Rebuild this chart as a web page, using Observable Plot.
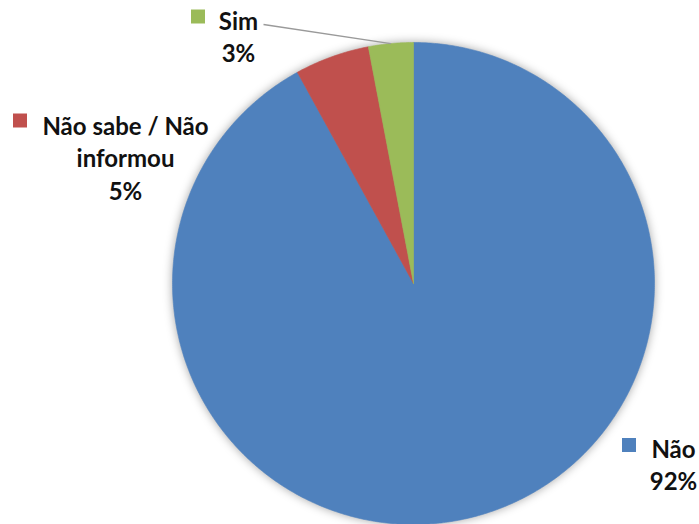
<!DOCTYPE html>
<html>
<head>
<meta charset="utf-8">
<script src="https://cdn.jsdelivr.net/npm/d3@7"></script>
<script src="https://cdn.jsdelivr.net/npm/@observablehq/plot@0.6"></script>
<style>
  html, body { margin: 0; padding: 0; background: #fff; }
  #chart svg { display: block; }
</style>
</head>
<body>
<div id="chart"></div>
<script>
// ---- Data ----
const categories = ["Não", "Não sabe / Não informou", "Sim"];
const values = [92, 5, 3];
const valueLabels = ["92%", "5%", "3%"];
const labelTexts = ["Não\n92%", "Não sabe / Não\ninformou\n5%", "Sim\n3%"];
const colors = ["#4F81BD", "#C0504D", "#9BBB59"];

// ---- Layout (pixels) ----
const W = 699, H = 524;
const cx = 413, cy = 283, R = 241;
const fx = px => (px - cx) / R;
const fy = py => (cy - py) / R;
// label text center x, top of first line y, square center
const labelLayout = [
  {tx: 673, ty: 435, sx: 628.5, sy: 444.5},
  {tx: 125, ty: 112, sx: 19.5, sy: 120},
  {tx: 238, ty: 7, sx: 197.5, sy: 16}
];
const leaderStart = {x: 263, y: 24}; // for "Sim"

// ---- Build pie slices (clockwise from 12 o'clock) ----
const total = d3.sum(values);
let acc = 0;
const slices = categories.map((c, i) => {
  const a0 = acc / total * 2 * Math.PI;
  acc += values[i];
  const a1 = acc / total * 2 * Math.PI;
  return {cat: c, a0, a1, mid: (a0 + a1) / 2};
});
const polyPts = [];
for (const s of slices) {
  polyPts.push({cat: s.cat, x: 0, y: 0});
  const n = Math.max(4, Math.ceil((s.a1 - s.a0) * 180 / Math.PI * 2));
  for (let k = 0; k <= n; k++) {
    const a = s.a0 + (s.a1 - s.a0) * k / n;
    polyPts.push({cat: s.cat, x: Math.sin(a), y: Math.cos(a)});
  }
  polyPts.push({cat: s.cat, x: 0, y: 0});
}

const labels = categories.map((c, i) => ({
  cat: c,
  text: labelTexts[i],
  x: fx(labelLayout[i].tx), y: fy(labelLayout[i].ty),
  sx: fx(labelLayout[i].sx), sy: fy(labelLayout[i].sy)
}));

const simSlice = slices[2];
const leader = [{
  x1: fx(leaderStart.x), y1: fy(leaderStart.y),
  x2: Math.sin(simSlice.mid), y2: Math.cos(simSlice.mid)
}];

const chart = Plot.plot({
  width: W,
  height: H,
  marginLeft: cx - R,
  marginRight: W - (cx + R),
  marginTop: cy - R,
  marginBottom: H - (cy + R),
  x: {domain: [-1, 1], axis: null},
  y: {domain: [-1, 1], axis: null},
  color: {domain: categories, range: colors},
  style: {fontFamily: "Lato, 'Open Sans', sans-serif", background: "#fff", overflow: "visible"},
  marks: [
    Plot.line(polyPts, {x: "x", y: "y", z: "cat", fill: "cat", stroke: "cat", strokeWidth: 0.6, curve: "linear"}),
    Plot.link(leader, {x1: "x1", y1: "y1", x2: "x2", y2: "y2", stroke: "#9a9a9a", strokeWidth: 1.3}),
    Plot.dot(labels, {x: "sx", y: "sy", symbol: "square", r: 7.9, fill: "cat", stroke: "none"}),
    Plot.text(labels, {x: "x", y: "y", text: "text", textAnchor: "middle", lineAnchor: "top",
      lineHeight: 1.34, fontSize: 24, fontWeight: "bold", fill: "#111"})
  ]
});
const pieG = chart.querySelector('g[aria-label="line"]');
if (pieG) pieG.style.filter = "drop-shadow(0px 0px 5px rgba(0,0,0,0.35))";
document.getElementById("chart").appendChild(chart);
</script>
</body>
</html>
